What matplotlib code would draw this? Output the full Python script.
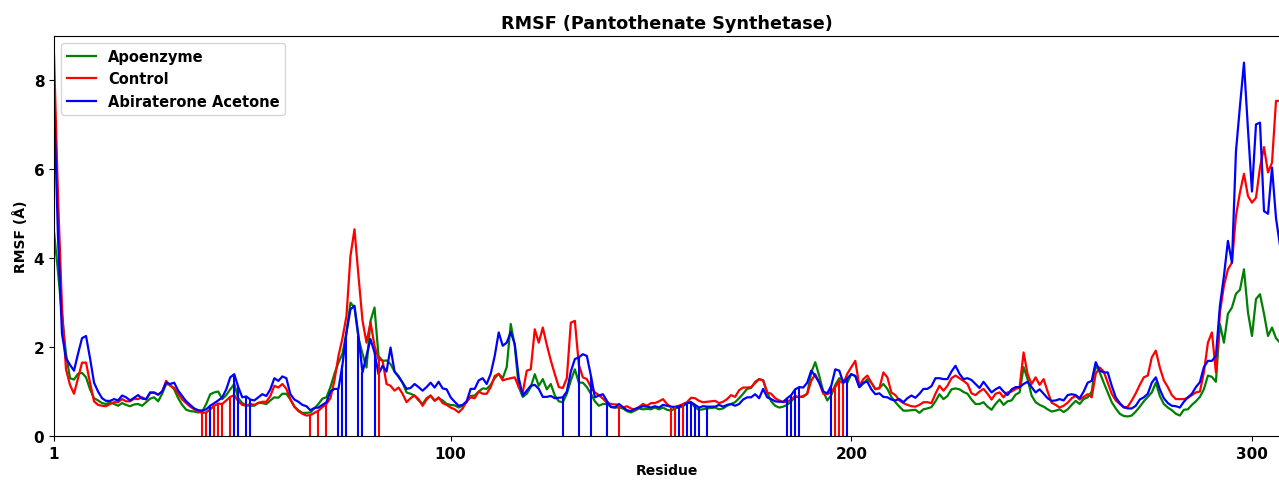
import matplotlib.pyplot as plt
import numpy as np

# RMSF per residue (Å), residues 1..307
apoenzyme = [
    4.60, 3.70, 2.70, 1.85, 1.30, 1.27, 1.40, 1.42, 1.32, 1.05,
    0.85, 0.80, 0.74, 0.72, 0.76, 0.72, 0.68, 0.74, 0.70, 0.67,
    0.71, 0.72, 0.68, 0.76, 0.84, 0.87, 0.78, 0.95, 1.17, 1.15,
    1.05, 0.85, 0.70, 0.59, 0.56, 0.55, 0.53, 0.55, 0.72, 0.94,
    0.98, 1.00, 0.83, 0.92, 1.05, 1.17, 0.85, 0.74, 0.69, 0.68,
    0.68, 0.75, 0.74, 0.72, 0.80, 0.87, 0.86, 0.95, 0.95, 0.82,
    0.66, 0.58, 0.52, 0.52, 0.53, 0.62, 0.72, 0.84, 0.87, 1.10,
    1.40, 1.65, 1.85, 2.33, 3.00, 2.89, 2.20, 1.85, 1.54, 2.59,
    2.89, 1.80, 1.69, 1.70, 1.62, 1.45, 1.35, 1.20, 0.98, 0.95,
    0.91, 0.80, 0.72, 0.85, 0.91, 0.80, 0.85, 0.80, 0.72, 0.70,
    0.69, 0.64, 0.68, 0.76, 0.90, 0.91, 1.00, 1.07, 1.06, 1.15,
    1.30, 1.40, 1.30, 1.55, 2.52, 2.03, 1.10, 0.88, 0.95, 1.10,
    1.39, 1.13, 1.28, 1.05, 1.17, 0.91, 0.78, 0.76, 0.95, 1.25,
    1.50, 1.20, 1.20, 1.10, 0.95, 0.78, 0.68, 0.72, 0.72, 0.66,
    0.64, 0.64, 0.62, 0.56, 0.53, 0.57, 0.62, 0.60, 0.61, 0.60,
    0.64, 0.60, 0.64, 0.59, 0.57, 0.62, 0.64, 0.67, 0.74, 0.76,
    0.64, 0.59, 0.60, 0.62, 0.63, 0.64, 0.60, 0.62, 0.68, 0.72,
    0.76, 0.85, 0.95, 1.06, 1.08, 1.22, 1.28, 1.25, 0.98, 0.78,
    0.68, 0.64, 0.66, 0.70, 0.78, 0.88, 0.88, 0.88, 0.95, 1.43,
    1.66, 1.35, 1.00, 0.80, 0.92, 1.15, 1.30, 1.25, 1.20, 1.39,
    1.35, 1.10, 1.18, 1.28, 1.20, 1.05, 1.08, 1.17, 1.06, 0.88,
    0.76, 0.66, 0.57, 0.57, 0.58, 0.59, 0.52, 0.60, 0.62, 0.65,
    0.78, 0.94, 0.83, 0.90, 1.05, 1.07, 1.05, 0.99, 0.95, 0.82,
    0.72, 0.72, 0.76, 0.66, 0.59, 0.72, 0.82, 0.70, 0.78, 0.80,
    0.93, 0.98, 1.55, 1.28, 0.91, 0.76, 0.70, 0.66, 0.60, 0.55,
    0.57, 0.60, 0.54, 0.60, 0.70, 0.79, 0.72, 0.83, 0.87, 1.00,
    1.60, 1.43, 1.20, 0.98, 0.76, 0.62, 0.50, 0.45, 0.44, 0.46,
    0.55, 0.66, 0.78, 0.88, 0.98, 1.20, 0.90, 0.72, 0.64, 0.58,
    0.50, 0.46, 0.59, 0.60, 0.70, 0.78, 0.88, 1.05, 1.36, 1.33,
    1.22, 2.52, 2.10, 2.75, 2.89, 3.20, 3.29, 3.75, 2.78, 2.25,
    3.08, 3.19, 2.75, 2.25, 2.44, 2.20, 2.10,
]

control = [
    8.60, 5.40, 2.90, 1.50, 1.15, 0.95, 1.30, 1.65, 1.65, 1.20,
    0.78, 0.70, 0.68, 0.67, 0.72, 0.76, 0.76, 0.83, 0.78, 0.78,
    0.84, 0.83, 0.87, 0.82, 0.97, 0.97, 0.93, 1.00, 1.24, 1.13,
    1.08, 0.95, 0.82, 0.74, 0.66, 0.60, 0.55, 0.52, 0.53, 0.60,
    0.68, 0.73, 0.72, 0.80, 0.88, 0.92, 0.78, 0.70, 0.68, 0.72,
    0.70, 0.74, 0.77, 0.77, 0.90, 1.13, 1.09, 1.17, 1.06, 0.83,
    0.66, 0.56, 0.50, 0.46, 0.47, 0.52, 0.57, 0.65, 0.72, 0.85,
    1.25, 1.80, 2.20, 2.70, 4.05, 4.65, 3.60, 2.60, 2.10, 2.56,
    2.03, 1.73, 1.70, 1.17, 1.13, 1.02, 1.09, 0.95, 0.76, 0.85,
    0.91, 0.83, 0.68, 0.82, 0.91, 0.79, 0.87, 0.74, 0.70, 0.64,
    0.60, 0.53, 0.62, 0.78, 0.87, 0.85, 1.00, 0.95, 0.95, 1.10,
    1.35, 1.40, 1.25, 1.28, 1.30, 1.32, 1.10, 0.98, 1.47, 1.50,
    2.40, 2.10, 2.44, 2.05, 1.70, 1.39, 1.10, 1.08, 1.30, 2.55,
    2.59, 1.60, 1.32, 1.28, 1.10, 0.98, 0.92, 0.84, 0.75, 0.72,
    0.71, 0.70, 0.64, 0.67, 0.62, 0.59, 0.65, 0.72, 0.68, 0.74,
    0.74, 0.78, 0.83, 0.72, 0.65, 0.66, 0.68, 0.72, 0.76, 0.86,
    0.85, 0.79, 0.76, 0.77, 0.78, 0.79, 0.74, 0.77, 0.83, 0.92,
    0.88, 1.03, 1.09, 1.09, 1.10, 1.19, 1.28, 1.25, 0.98, 0.95,
    0.85, 0.80, 0.76, 0.77, 0.82, 0.90, 0.87, 0.90, 0.95, 1.24,
    1.39, 1.20, 0.95, 0.94, 1.00, 1.10, 1.24, 1.18, 1.40, 1.55,
    1.69, 1.13, 1.28, 1.36, 1.20, 1.06, 1.07, 1.43, 1.32, 0.98,
    0.92, 0.80, 0.74, 0.70, 0.67, 0.66, 0.70, 0.76, 0.76, 0.74,
    0.95, 1.13, 1.02, 1.13, 1.30, 1.36, 1.30, 1.24, 1.17, 0.96,
    0.92, 1.00, 1.06, 0.95, 0.82, 0.95, 0.98, 0.87, 0.98, 1.00,
    1.06, 1.09, 1.88, 1.39, 1.17, 1.32, 1.15, 1.28, 1.00, 0.75,
    0.70, 0.64, 0.68, 0.75, 0.85, 0.90, 0.82, 0.88, 0.94, 0.87,
    1.40, 1.54, 1.45, 1.20, 0.95, 0.80, 0.72, 0.64, 0.66, 0.80,
    0.96, 1.15, 1.32, 1.36, 1.77, 1.92, 1.54, 1.25, 1.10, 0.92,
    0.83, 0.83, 0.83, 0.86, 0.92, 0.98, 1.00, 1.43, 2.10, 2.33,
    1.43, 2.78, 3.38, 3.75, 3.90, 4.95, 5.48, 5.90, 5.40, 5.25,
    5.36, 6.04, 6.50, 5.93, 6.15, 7.54, 7.54,
]

abiraterone = [
    7.60, 4.50, 2.30, 1.75, 1.60, 1.47, 1.85, 2.20, 2.25, 1.75,
    1.20, 1.00, 0.85, 0.79, 0.79, 0.83, 0.80, 0.91, 0.87, 0.80,
    0.86, 0.92, 0.84, 0.83, 0.98, 0.98, 0.93, 1.00, 1.20, 1.17,
    1.20, 1.02, 0.90, 0.78, 0.70, 0.62, 0.58, 0.57, 0.60, 0.68,
    0.74, 0.80, 0.87, 1.05, 1.32, 1.39, 1.10, 0.87, 0.89, 0.82,
    0.80, 0.87, 0.94, 0.90, 1.05, 1.30, 1.24, 1.34, 1.30, 0.94,
    0.82, 0.77, 0.70, 0.67, 0.58, 0.63, 0.64, 0.70, 0.76, 1.00,
    1.06, 1.06, 1.60, 2.33, 2.85, 2.93, 2.25, 1.43, 1.80, 2.18,
    1.88, 1.39, 1.58, 1.45, 1.99, 1.45, 1.33, 1.20, 1.06, 1.08,
    1.17, 1.10, 1.02, 1.10, 1.20, 1.09, 1.22, 1.07, 1.05, 0.87,
    0.77, 0.68, 0.70, 0.78, 1.06, 1.06, 1.25, 1.30, 1.17, 1.40,
    1.80, 2.33, 2.03, 2.10, 2.34, 2.07, 1.30, 0.91, 1.02, 1.13,
    1.15, 1.06, 0.88, 0.88, 0.90, 0.85, 0.86, 0.87, 1.00, 1.45,
    1.73, 1.77, 1.84, 1.80, 1.36, 0.87, 0.91, 0.94, 0.79, 0.65,
    0.64, 0.72, 0.65, 0.58, 0.56, 0.61, 0.64, 0.67, 0.66, 0.64,
    0.67, 0.64, 0.70, 0.68, 0.66, 0.64, 0.67, 0.69, 0.74, 0.76,
    0.70, 0.64, 0.67, 0.66, 0.66, 0.66, 0.70, 0.66, 0.70, 0.72,
    0.68, 0.72, 0.82, 0.87, 0.87, 0.94, 0.85, 1.06, 0.87, 0.83,
    0.78, 0.77, 0.77, 0.85, 0.92, 1.05, 1.10, 1.09, 1.20, 1.47,
    1.35, 1.20, 1.00, 0.96, 1.13, 1.50, 1.47, 1.20, 1.30, 1.39,
    1.35, 1.10, 1.20, 1.22, 1.05, 0.94, 0.96, 0.88, 0.87, 0.82,
    0.80, 0.83, 0.76, 0.85, 0.91, 0.86, 0.95, 1.06, 1.06, 1.12,
    1.30, 1.30, 1.28, 1.28, 1.45, 1.58, 1.40, 1.28, 1.30, 1.26,
    1.17, 1.08, 1.22, 1.10, 0.98, 1.05, 1.10, 1.00, 0.92, 1.05,
    1.10, 1.10, 1.17, 1.22, 1.10, 0.98, 1.05, 0.95, 0.85, 0.79,
    0.80, 0.83, 0.80, 0.92, 0.94, 0.92, 0.85, 1.00, 1.20, 1.24,
    1.66, 1.47, 1.43, 1.43, 1.13, 0.87, 0.74, 0.65, 0.62, 0.62,
    0.68, 0.82, 0.87, 0.95, 1.20, 1.32, 1.05, 0.85, 0.74, 0.68,
    0.67, 0.64, 0.77, 0.87, 0.95, 1.10, 1.21, 1.55, 1.69, 1.69,
    1.80, 2.93, 3.60, 4.39, 3.90, 6.40, 7.42, 8.40, 6.90, 5.50,
    7.01, 7.05, 5.06, 5.00, 6.04, 4.90, 4.28,
]

# residues in contact with the ligand (drawn as drop lines)
control_contacts = [38, 39, 41, 42, 43, 45, 65, 67, 69, 82, 142,
                    155, 156, 158, 196, 197, 198]
abiraterone_contacts = [40, 46, 47, 49, 50, 72, 73, 74, 77, 78, 81,
                        128, 132, 135, 139, 157, 159, 160, 161, 162, 164,
                        184, 185, 186, 187, 195, 199]

residues = np.arange(1, len(apoenzyme) + 1)
apo = np.array(apoenzyme)
ctl = np.array(control)
abi = np.array(abiraterone)

plt.rcParams['font.family'] = 'DejaVu Sans'
plt.rcParams['font.weight'] = 'bold'

fig = plt.figure(figsize=(12.79, 4.81), dpi=100)
ax = fig.add_axes([0.0422, 0.0915, 0.9586, 0.8316])

ax.plot(residues, apo, color='green', lw=1.6, label='Apoenzyme')
ax.plot(residues, ctl, color='red', lw=1.6, label='Control')
ax.plot(residues, abi, color='blue', lw=1.6, label='Abiraterone Acetone')

ci = np.array(control_contacts)
ai = np.array(abiraterone_contacts)
ax.vlines(ci, 0, ctl[ci - 1], color='red', lw=1.5)
ax.vlines(ai, 0, abi[ai - 1], color='blue', lw=1.5)

ax.set_xlim(1, 307)
ax.set_ylim(0, 9)
ax.set_xticks([1, 100, 200, 300])
ax.set_yticks([0, 2, 4, 6, 8])
ax.tick_params(labelsize=11)
for lab in ax.get_xticklabels() + ax.get_yticklabels():
    lab.set_fontweight('bold')

ax.set_xlabel('Residue', fontsize=10, fontweight='bold', labelpad=2)
ax.set_ylabel('RMSF (Å)', fontsize=10, fontweight='bold')
ax.set_title('RMSF (Pantothenate Synthetase)', fontsize=12.7, fontweight='bold')
ax.legend(loc='upper left', prop={'weight': 'bold', 'size': 10.5})

fig.savefig('out.png', dpi=100)
